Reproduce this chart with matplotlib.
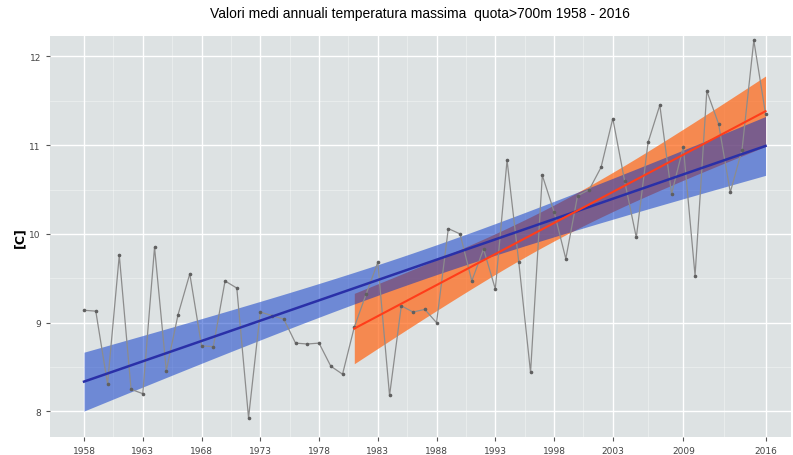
import matplotlib
matplotlib.use("Agg")
import matplotlib.pyplot as plt
import numpy as np

# yearly mean of max temperature, stations above 700 m
years = np.arange(1958, 2017)
tmax = [9.14, 9.13, 8.31, 9.76, 8.25, 8.20, 9.85, 8.46, 9.09, 9.55,
        8.74, 8.73, 9.47, 9.39, 7.93, 9.12, 9.08, 9.04, 8.77, 8.76,
        8.77, 8.51, 8.42, 8.95, 9.32, 9.68, 8.18, 9.19, 9.12, 9.15,
        9.00, 10.06, 10.00, 9.47, 9.83, 9.38, 10.83, 9.68, 8.44, 10.66,
        10.25, 9.72, 10.43, 10.50, 10.75, 11.30, 10.60, 9.96, 11.03, 11.45,
        10.45, 10.98, 9.53, 11.61, 11.24, 10.47, 10.95, 12.18, 11.35]
tick_years = [1958, 1963, 1968, 1973, 1978, 1983, 1988, 1993, 1998, 2003, 2009, 2016]
y_ticks = [8, 9, 10, 11, 12]
start_recent = 1981

# t quantiles (0.975) for the lm confidence bands
t_full = 2.002   # df = 57
t_recent = 2.032  # df = 34


def lm_band(x, y, t):
    x = np.asarray(x, dtype=float)
    y = np.asarray(y, dtype=float)
    b, a = np.polyfit(x, y, 1)
    fit = a + b * x
    s = np.sqrt(np.sum((y - fit) ** 2) / (len(x) - 2))
    se = s * np.sqrt(1 / len(x) + (x - x.mean()) ** 2 / np.sum((x - x.mean()) ** 2))
    return fit, fit - t * se, fit + t * se


tmax = np.array(tmax)
fit_all, lo_all, hi_all = lm_band(years, tmax, t_full)
mask = years >= start_recent
fit_rec, lo_rec, hi_rec = lm_band(years[mask], tmax[mask], t_recent)

fig = plt.figure(figsize=(7.93, 4.56), dpi=100)
ax = fig.add_axes([0.063, 0.039, 0.935, 0.88])
ax.set_facecolor("#dde2e3")

ax.set_xlim(1955.1, 2018.2)
ax.set_ylim(7.71, 12.23)
ax.set_xticks(tick_years)
ax.set_yticks(y_ticks)
ax.set_xticks([(a + b) / 2 for a, b in zip(tick_years[:-1], tick_years[1:])], minor=True)
ax.set_yticks([v + 0.5 for v in y_ticks[:-1]], minor=True)
ax.grid(which="major", color="white", lw=1.0)
ax.grid(which="minor", color="white", lw=0.5, alpha=0.5)
ax.set_axisbelow(True)
for sp in ax.spines.values():
    sp.set_visible(False)
ax.tick_params(which="major", length=3, color="#555555", labelsize=6.5, labelcolor="#444444")
ax.tick_params(which="minor", length=0)

# bands: orange (1981-2016) under blue (full period)
ax.fill_between(years[mask], lo_rec, hi_rec, color="#ff6718", alpha=0.72, lw=0, zorder=2)
ax.fill_between(years, lo_all, hi_all, color="#0032c8", alpha=0.5, lw=0, zorder=3)

ax.plot(years, tmax, color="#8c8c8c", lw=0.9, zorder=4)
ax.plot(years, tmax, "o", ms=1.6, color="#606060", zorder=4)

ax.plot(years, fit_all, color="#2a30a8", lw=1.8, zorder=5)
ax.plot(years[mask], fit_rec, color="#ff3d1a", lw=1.5, zorder=5)

ax.set_ylabel("[C]", fontsize=9, fontweight="bold", labelpad=2)
fig.suptitle("Valori medi annuali temperatura massima  quota>700m 1958 - 2016",
             x=0.53, y=0.985, fontsize=10, family="Liberation Sans")

fig.savefig("out.png", dpi=100)
